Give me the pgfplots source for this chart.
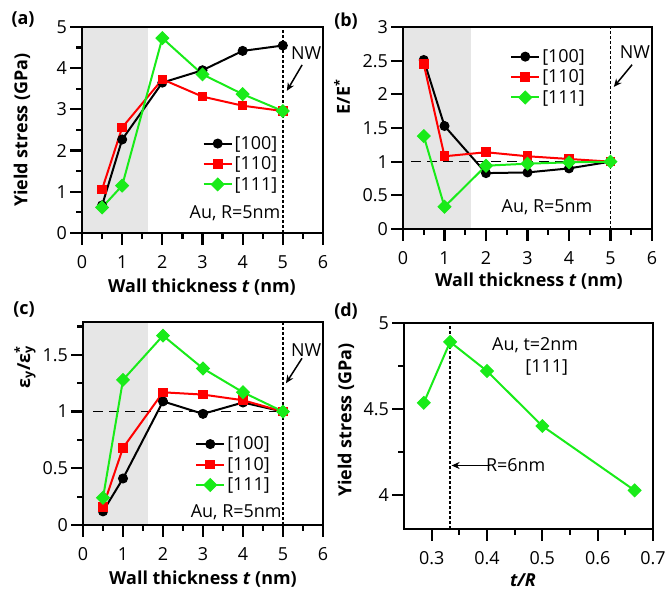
\documentclass[border=0pt]{standalone}
\usepackage{pgfplots}
\pgfplotsset{compat=1.18}
\usepackage{fontspec}
\setmainfont{Open Sans}
\usetikzlibrary{arrows.meta}
\definecolor{cgreen}{RGB}{25,235,25}
\definecolor{cred}{RGB}{255,0,0}
\definecolor{cshade}{RGB}{230,230,230}
\newcommand{\myfs}{\fontsize{18}{21}\selectfont}
\tikzset{fr/.style={line width=2.5bp, black},
         xl/.style={inner sep=0pt, anchor=center},
         yl/.style={inner sep=0pt, anchor=east}}
% tick marks drawn as small filled bars
\newcommand{\xtk}[3]{\fill[black] ({#1-1.1bp},#2) rectangle ({#1+1.1bp},{#2-#3});}
\newcommand{\ytk}[3]{\fill[black] (#1,{#2-1.1bp}) rectangle ({#1-#3},{#2+1.1bp});}
\pgfplotsset{
  base/.style={
    scale only axis,
    axis on top,
    clip=false,
    axis line style={line width=2.5bp},
    xtick=\empty, ytick=\empty,
    legend style={draw=none, fill=none, font=\myfs, inner sep=0pt, row sep=2bp},
    legend cell align=left,
    legend image code/.code={\draw[mark repeat=2,mark phase=2] plot coordinates {(0bp,0bp) (14bp,0bp) (28bp,0bp)};},
  },
  s100/.style={black, line width=2bp, mark=*, mark size=4.5bp, mark options={solid, fill=black, line width=1bp}},
  s110/.style={cred, line width=2bp, mark=square*, mark size=4.3bp, mark options={solid, fill=cred, line width=1bp}},
  s111/.style={cgreen, line width=2bp, mark=square*, mark size=4.5bp, mark options={solid, fill=cgreen, rotate=45, line width=1bp}},
}
\begin{document}
\begin{tikzpicture}[font=\myfs]
\useasboundingbox (0bp,0bp) rectangle (665bp,591bp);

% ---------------- (a)
\begin{axis}[base, at={(82bp,358bp)}, anchor=south west, width=241bp, height=206bp,
  xmin=0, xmax=6, ymin=0, ymax=5,
  legend style={at={(0.50,0.48)}, anchor=north west}]
\fill[cshade] (axis cs:0,0) rectangle (axis cs:1.65,5);
\draw[line width=1.6bp, dash pattern=on 3bp off 2bp] (axis cs:5,0) -- (axis cs:5,5);
\addplot[s100] coordinates {(0.5,0.67) (1,2.27) (2,3.65) (3,3.95) (4,4.42) (5,4.55)};
\addlegendentry{[100]}
\addplot[s110] coordinates {(0.5,1.06) (1,2.56) (2,3.73) (3,3.31) (4,3.09) (5,2.96)};
\addlegendentry{[110]}
\addplot[s111] coordinates {(0.5,0.62) (1,1.15) (2,4.73) (3,3.85) (4,3.37) (5,2.96)};
\addlegendentry{[111]}
\node at (axis cs:5.58,4.37) {NW};
\draw[-{Stealth[length=8bp,width=7bp]}, line width=1.5bp] (axis cs:5.48,4.08) -- (axis cs:5.10,3.45);
\node at (axis cs:3.81,0.49) {Au, R=5nm};
\end{axis}

% ---------------- (b)
\begin{axis}[base, at={(403bp,362bp)}, anchor=south west, width=249bp, height=202bp,
  xmin=0, xmax=6, ymin=0, ymax=3,
  legend style={at={(0.43,0.90)}, anchor=north west}]
\fill[cshade] (axis cs:0,0) rectangle (axis cs:1.63,3);
\draw[line width=1.6bp, dash pattern=on 3bp off 2bp] (axis cs:5,0) -- (axis cs:5,3);
\draw[line width=1.6bp, dash pattern=on 10bp off 6bp] (axis cs:0.2,1) -- (axis cs:5,1);
\addplot[s100] coordinates {(0.5,2.51) (1,1.53) (2,0.83) (3,0.84) (4,0.90) (5,1.0)};
\addlegendentry{[100]}
\addplot[s110] coordinates {(0.5,2.45) (1,1.08) (2,1.14) (3,1.08) (4,1.04) (5,1.0)};
\addlegendentry{[110]}
\addplot[s111] coordinates {(0.5,1.38) (1,0.33) (2,0.94) (3,0.97) (4,0.99) (5,1.0)};
\addlegendentry{[111]}
\node at (axis cs:5.59,2.63) {NW};
\draw[-{Stealth[length=8bp,width=7bp]}, line width=1.5bp] (axis cs:5.52,2.44) -- (axis cs:5.08,2.11);
\node at (axis cs:3.47,0.33) {Au, R=5nm};
\end{axis}

% ---------------- (c)
\begin{axis}[base, at={(83bp,66bp)}, anchor=south west, width=240bp, height=203bp,
  xmin=0, xmax=6, ymin=0, ymax=1.79,
  legend style={at={(0.467,0.445)}, anchor=north west}]
\fill[cshade] (axis cs:0,0) rectangle (axis cs:1.63,1.79);
\draw[line width=1.6bp, dash pattern=on 3bp off 2bp] (axis cs:5,0) -- (axis cs:5,1.79);
\draw[line width=1.6bp, dash pattern=on 10bp off 6bp] (axis cs:0.25,1) -- (axis cs:5,1);
\addplot[s100] coordinates {(0.5,0.12) (1,0.41) (2,1.09) (3,0.98) (4,1.08) (5,1.0)};
\addlegendentry{[100]}
\addplot[s110] coordinates {(0.5,0.16) (1,0.68) (2,1.17) (3,1.15) (4,1.10) (5,1.0)};
\addlegendentry{[110]}
\addplot[s111] coordinates {(0.5,0.24) (1,1.28) (2,1.67) (3,1.38) (4,1.17) (5,1.0)};
\addlegendentry{[111]}
\node at (axis cs:5.58,1.54) {NW};
\draw[-{Stealth[length=8bp,width=7bp]}, line width=1.5bp] (axis cs:5.475,1.47) -- (axis cs:5.075,1.25);
\node at (axis cs:3.83,0.115) {Au, R=5nm};
\end{axis}

% ---------------- (d)
\begin{axis}[base, at={(404bp,62bp)}, anchor=south west, width=249bp, height=206bp,
  xmin=0.25, xmax=0.7, ymin=3.8, ymax=5]
\draw[line width=1.6bp, dash pattern=on 3bp off 2bp] (axis cs:0.3333,3.8) -- (axis cs:0.3333,5);
\addplot[s111] coordinates {(0.2857,4.535) (0.3333,4.89) (0.4,4.72) (0.5,4.40) (0.6667,4.025)};
\node at (axis cs:0.487,4.87) {Au, t=2nm};
\node at (axis cs:0.508,4.74) {[111]};
\node at (axis cs:0.452,4.17) {R=6nm};
\draw[-{Stealth[length=8bp,width=7bp]}, line width=1.5bp] (axis cs:0.405,4.17) -- (axis cs:0.336,4.17);
\end{axis}

% ---------------- frames, ticks and tick labels
% (a)
\draw[fr] (82bp,358bp) rectangle ++(241bp,206bp);
\foreach \v in {0,...,6} {
  \xtk{82bp+\v*241bp/6}{358bp}{12bp}
  \node[xl] at ({82bp+\v*241bp/6},329bp) {\v};}
\foreach \v in {0.5,1.5,2.5,3.5,4.5,5.5} {\xtk{82bp+\v*241bp/6}{358bp}{6.5bp}}
\foreach \v in {0,...,5} {
  \ytk{82bp}{358bp+\v*41.2bp}{12bp}
  \node[yl] at (67bp,{358bp+\v*41.2bp}) {\v};}
\foreach \v in {0.5,1.5,2.5,3.5,4.5} {\ytk{82bp}{358bp+\v*41.2bp}{6.5bp}}
% (b)
\draw[fr] (403bp,362bp) rectangle ++(249bp,202bp);
\foreach \v in {0,...,6} {
  \xtk{403bp+\v*41.5bp}{362bp}{12bp}
  \node[xl] at ({403bp+\v*41.5bp},333bp) {\v};}
\foreach \v in {0.5,1.5,2.5,3.5,4.5,5.5} {\xtk{403bp+\v*41.5bp}{362bp}{6.5bp}}
\foreach \v/\l in {0/0,0.5/0.5,1/1,1.5/1.5,2/2,2.5/2.5,3/3} {
  \ytk{403bp}{362bp+\v*67.333bp}{12bp}
  \node[yl] at (388bp,{362bp+\v*67.333bp}) {\l};}
% (c)
\draw[fr] (83bp,66bp) rectangle ++(240bp,203bp);
\foreach \v in {0,...,6} {
  \xtk{83bp+\v*40bp}{66bp}{12bp}
  \node[xl] at ({83bp+\v*40bp},37bp) {\v};}
\foreach \v in {0.5,1.5,2.5,3.5,4.5,5.5} {\xtk{83bp+\v*40bp}{66bp}{6.5bp}}
\foreach \v/\l in {0/0,0.5/0.5,1/1,1.5/1.5} {
  \ytk{83bp}{66bp+\v*113.41bp}{12bp}
  \node[yl] at (68bp,{66bp+\v*113.41bp}) {\l};}
\foreach \v in {0.25,0.75,1.25,1.75} {\ytk{83bp}{66bp+\v*113.41bp}{6.5bp}}
% (d)
\draw[fr] (404bp,62bp) rectangle ++(249bp,206bp);
\foreach \p/\l in {431.67/0.3,487.0/0.4,542.33/0.5,597.67/0.6,653.0/0.7} {
  \xtk{\p bp}{62bp}{12bp}
  \node[xl] at (\p bp,33bp) {\l};}
\foreach \p in {459.33,514.67,570.0,625.33} {\xtk{\p bp}{62bp}{6.5bp}}
\foreach \p/\l in {96.33/4,182.17/4.5,268.0/5} {
  \ytk{404bp}{\p bp}{12bp}
  \node[yl] at (389bp,\p bp) {\l};}
\foreach \p in {139.25,225.08} {\ytk{404bp}{\p bp}{6.5bp}}

% ---------------- labels
\node[font=\bfseries\myfs] at (23bp,571bp) {(a)};
\node[font=\bfseries\myfs] at (346bp,570bp) {(b)};
\node[font=\bfseries\myfs] at (24bp,281bp) {(c)};
\node[font=\bfseries\myfs] at (346bp,280bp) {(d)};

\node[rotate=90, font=\bfseries\myfs] at (22bp,461bp) {Yield stress (GPa)};
\node[rotate=90, font=\bfseries\myfs] at (342bp,494bp) {E/E\textsuperscript{*}};
\node[rotate=90, font=\bfseries\myfs] at (25bp,224bp) {ε\textsubscript{y}/ε\rlap{\textsuperscript{*}}\textsubscript{y}};
\node[rotate=90, font=\bfseries\myfs] at (346bp,171bp) {Yield stress (GPa)};

\node[font=\bfseries\myfs] at (202bp,304bp) {Wall thickness \textit{t} (nm)};
\node[font=\bfseries\myfs] at (529bp,310bp) {Wall thickness \textit{t} (nm)};
\node[font=\bfseries\myfs] at (203bp,12bp) {Wall thickness \textit{t} (nm)};
\node[font=\bfseries\myfs] at (523bp,11bp) {\textit{t/R}};
\end{tikzpicture}
\end{document}
